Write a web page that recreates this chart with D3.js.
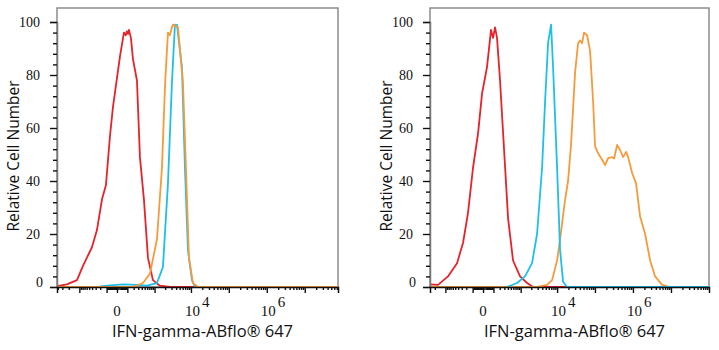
<!DOCTYPE html>
<html>
<head>
<meta charset="utf-8">
<script src="https://cdn.jsdelivr.net/npm/d3@7"></script>
<style>
  html, body { margin: 0; padding: 0; background: #fff; }
  svg { display: block; }
</style>
</head>
<body>
<script>
// ---------- DATA ----------
const yTickValues = [0, 20, 40, 60, 80, 100];
const xLabelValues = [0, 1e4, 1e6];
const xLabelBase = ["0", "10", "10"];
const xLabelExp = ["", "4", "6"];
const xTitle = "IFN-gamma-ABflo\u00AE 647";
const yTitle = "Relative Cell Number";

// Left panel histograms: [fluorescence, relative cell number]
const leftRed = [
  [-4200, 0.3], [-2250, 1], [-1170, 2.6], [-781, 8], [-405, 15], [-269, 21.5],
  [-169, 33], [-108, 38.5], [-60, 57], [-31, 68], [23, 87], [60, 96], [80, 95],
  [95, 96.5], [110, 95.5], [122, 97], [152, 94], [187, 86], [269, 78], [345, 49],
  [471, 33], [633, 11], [896, 2.6], [1425, 0.5], [2715, 0], [7.5e7, 0]
];
const leftCyan = [
  [-205, 0.2], [-31, 0.7], [50, 1], [269, 0.8], [588, 0.5], [1174, 1.5],
  [1735, 7.5], [2394, 39], [3078, 77], [3713, 99], [4000, 98.5], [4210, 99],
  [5740, 83], [6910, 45], [8310, 14], [10620, 2.6], [12770, 0]
];
const leftOrange = [
  [-4200, 0], [187, 0], [437, 1.5], [727, 5], [1174, 18], [1630, 45], [2000, 77],
  [2394, 96], [2700, 95], [3078, 98], [3283, 99], [4480, 98], [6110, 77],
  [7350, 45], [8835, 11], [11290, 1.5], [15330, 0], [7.5e7, 0]
];

// Right panel histograms
const rightRed = [
  [-2715, 1], [-1630, 0.8], [-837, 4], [-437, 9], [-269, 16.6], [-169, 28],
  [-95, 45], [-40, 58], [-7, 73], [31, 83], [71, 97], [95, 94], [122, 98],
  [152, 94], [205, 78], [293, 52], [405, 26], [588, 10], [959, 4], [1528, 1.5],
  [2246, 0], [1e8, 0]
];
const rightOrange = [
  [-2715, 0], [2890, 0], [5400, 0.8], [7350, 2.6], [9990, 10], [12000, 18],
  [16280, 33], [19560, 40], [23480, 54], [29950, 81], [35930, 92], [40600, 93],
  [45830, 92], [51750, 96], [62100, 95], [74560, 89], [89400, 70], [100900, 53],
  [121000, 50.5], [154400, 48], [185000, 46], [221900, 48.6], [283000, 49],
  [319000, 48.5], [383000, 53.6], [459000, 51.7], [551000, 49], [661000, 51],
  [747000, 49], [951000, 43], [1.21e6, 39], [1.545e6, 26.5], [2.09e6, 20],
  [2.83e6, 10], [3.83e6, 4], [5.86e6, 0.8], [9.5e6, 0], [1e8, 0]
];
const rightCyan = [
  [374, 0], [781, 1.5], [1336, 4], [2105, 9], [2890, 20], [3960, 45], [4770, 70],
  [5740, 92], [6910, 99], [7810, 83], [9990, 45], [12000, 14], [14410, 2],
  [18400, 0], [1e8, 0]
];

const colors = { red: "#e5232a", orange: "#f59b3c", cyan: "#1fbfe9" };

// ---------- LAYOUT ----------
const W = 719, H = 350;
const panels = [
  { left: 57, right: 338, domain: [-4200, 7.5e7],
    series: [[leftRed, colors.red], [leftCyan, colors.cyan], [leftOrange, colors.orange]] },
  { left: 430, right: 709, domain: [-2715, 1e8],
    series: [[rightRed, colors.red], [rightOrange, colors.orange], [rightCyan, colors.cyan]] }
];
const plotTop = 8, plotBottom = 287;
const symC = 114;

const svg = d3.select("body").append("svg").attr("width", W).attr("height", H);

const y = d3.scaleLinear().domain([0, 100]).range([plotBottom, 22]);

// tick sets
const majorX = [-1e3, -1e2, 0, 1e2, 1e3, 1e4, 1e5, 1e6, 1e7];
const minorX = [];
for (let k = 1; k <= 7; k++) {
  for (let m = 1; m <= 9; m++) {
    const v = m * Math.pow(10, k);
    if (m !== 1 || k === 1) { minorX.push(v); if (k <= 3) minorX.push(-v); }
  }
}
for (let m = 1; m <= 9; m++) { minorX.push(-m * 5); }
const minorY = d3.range(0, 101, 4).filter(v => v % 20 !== 0);

panels.forEach(p => {
  const x = d3.scaleSymlog().constant(symC).domain(p.domain).range([p.left, p.right]);
  const g = svg.append("g");

  // frame
  g.append("rect")
    .attr("x", p.left).attr("y", plotTop)
    .attr("width", p.right - p.left).attr("height", plotBottom - plotTop)
    .attr("fill", "none").attr("stroke", "#8c8c8c").attr("stroke-width", 1.5);

  // curves
  const line = d3.line().x(d => x(d[0])).y(d => y(d[1])).curve(d3.curveLinear);
  const clipId = "clip" + p.left;
  svg.append("clipPath").attr("id", clipId).append("rect")
    .attr("x", p.left).attr("y", plotTop).attr("width", p.right - p.left).attr("height", plotBottom - plotTop + 1);
  p.series.forEach(([data, col]) => {
    g.append("path").datum(data)
      .attr("d", line)
      .attr("fill", "none")
      .attr("stroke", col)
      .attr("stroke-width", 1.8)
      .attr("stroke-linejoin", "round")
      .attr("clip-path", `url(#${clipId})`);
  });

  // y axis
  const yAxis = g.append("g").attr("transform", `translate(${p.left},0)`)
    .call(d3.axisLeft(y).tickValues(yTickValues).tickSize(7).tickPadding(10)
      .tickFormat(d3.format("d")));
  g.append("g").attr("transform", `translate(${p.left},0)`)
    .call(d3.axisLeft(y).tickValues(minorY).tickSize(4).tickFormat(""))
    .call(a => a.select(".domain").remove());
  yAxis.select(".domain").attr("stroke", "#777").attr("stroke-width", 1.5);
  yAxis.selectAll("text")
    .attr("font-family", "'Liberation Serif', 'DejaVu Serif', serif")
    .attr("font-size", 14).attr("fill", "#111");
  yAxis.selectAll(".tick").filter(d => d === 0).select("text")
    .attr("dx", 3).attr("dy", "-0.05em");

  // x axis
  const xAxis = g.append("g").attr("transform", `translate(0,${plotBottom})`)
    .call(d3.axisBottom(x).tickValues(majorX).tickSize(6).tickFormat(""));
  g.append("g").attr("transform", `translate(0,${plotBottom})`)
    .call(d3.axisBottom(x).tickValues(minorX.filter(v => v > p.domain[0] && v < p.domain[1]))
      .tickSize(3).tickFormat(""))
    .call(a => a.select(".domain").remove());
  xAxis.select(".domain").attr("stroke", "#111").attr("stroke-width", 1.5);
  g.selectAll("g.tick line").attr("stroke", "#111").attr("stroke-width", 1.4);

  // x tick labels
  xLabelValues.forEach((v, i) => {
    const t = g.append("text")
      .attr("x", x(v) + (xLabelExp[i] ? -6 : 0))
      .attr("y", 315.5)
      .attr("text-anchor", xLabelExp[i] ? "start" : "middle")
      .attr("font-family", "'Liberation Serif', 'DejaVu Serif', serif")
      .attr("font-size", 15).attr("fill", "#111");
    t.append("tspan").text(xLabelBase[i]);
    if (xLabelExp[i]) t.append("tspan").attr("dy", -9).attr("dx", 2).text(xLabelExp[i]);
  });

  // titles
  g.append("text")
    .attr("x", (p.left + p.right) / 2 + 5).attr("y", 337)
    .attr("text-anchor", "middle")
    .attr("font-family", "'Open Sans', 'Noto Sans', sans-serif")
    .attr("font-size", 16.5).attr("fill", "#111")
    .text(xTitle);
  g.append("text")
    .attr("transform", `translate(${p.left - 43},156) rotate(-90)`)
    .attr("text-anchor", "middle").attr("dy", "0.35em")
    .attr("font-family", "'Open Sans', 'Noto Sans', sans-serif")
    .attr("font-size", 15.5).attr("fill", "#111")
    .text(yTitle);
});
</script>
</body>
</html>
